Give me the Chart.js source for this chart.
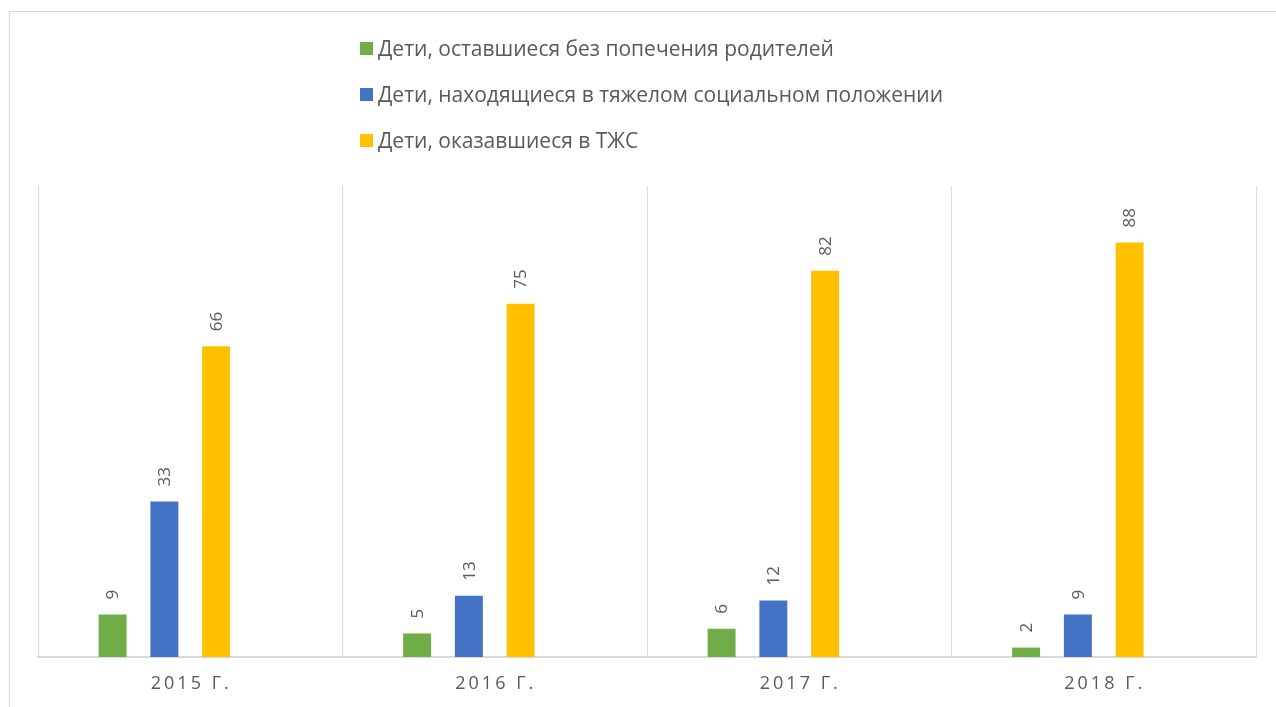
<!DOCTYPE html>
<html>
<head>
<meta charset="utf-8">
<script src="https://cdn.jsdelivr.net/npm/chart.js@4/dist/chart.umd.min.js"></script>
<style>
  html, body { margin: 0; padding: 0; background: #fff; }
  #wrap { position: relative; width: 1276px; height: 707px; overflow: hidden; }
  #frame { position: absolute; left: 9px; top: 11px; width: 1300px; height: 750px;
    border-left: 1px solid #d9d9d9; border-top: 1px solid #d9d9d9; box-sizing: border-box; }
  #legend { position: absolute; left: 360px; top: 25px; font-family: 'Open Sans', sans-serif;
    font-size: 21px; color: #595959; }
  .item { display: flex; align-items: center; height: 46px; }
  .box { width: 13px; height: 13px; margin-right: 5px; }
  canvas { position: absolute; left: 0; top: 0; }
</style>
</head>
<body>
<div id="wrap">
  <div id="frame"></div>
  <canvas id="chart" width="1276" height="707"></canvas>
  <div id="legend"></div>
</div>
<script>
'use strict';

let years = ['2015 Г.', '2016 Г.', '2017 Г.', '2018 Г.'];
let seriesNames = [
  'Дети, оставшиеся без попечения родителей',
  'Дети, находящиеся в тяжелом социальном положении',
  'Дети, оказавшиеся в ТЖС'
];
let withoutParents = [9, 5, 6, 2];
let hardSocial = [33, 13, 12, 9];
let difficultSituation = [66, 75, 82, 88];
let colors = ['#70ad47', '#4472c4', '#ffc000'];

let legendDiv = document.getElementById('legend');
for (let i = 0; i < seriesNames.length; i++) {
  let row = document.createElement('div');
  row.className = 'item';
  let box = document.createElement('span');
  box.className = 'box';
  box.style.background = colors[i];
  let txt = document.createElement('span');
  txt.textContent = seriesNames[i];
  row.appendChild(box);
  row.appendChild(txt);
  legendDiv.appendChild(row);
}

// vertical value labels above the bars
let barLabels = {
  id: 'barLabels',
  afterDatasetsDraw(chart) {
    let ctx = chart.ctx;
    ctx.save();
    ctx.font = '17px "Open Sans", sans-serif';
    ctx.fillStyle = '#595959';
    ctx.textAlign = 'left';
    ctx.textBaseline = 'middle';
    chart.data.datasets.forEach((ds, di) => {
      if (!ds.showLabels) return;
      let meta = chart.getDatasetMeta(di);
      meta.data.forEach((bar, i) => {
        ctx.save();
        ctx.translate(bar.x + 1, bar.y - 15);
        ctx.rotate(-Math.PI / 2);
        ctx.fillText(String(ds.data[i]), 0, 0);
        ctx.restore();
      });
    });
    ctx.restore();
  }
};

// category labels with letter spacing
let yearLabels = {
  id: 'yearLabels',
  afterDraw(chart) {
    let ctx = chart.ctx;
    let xs = chart.scales.x;
    ctx.save();
    ctx.font = '18px "Open Sans", sans-serif';
    ctx.fillStyle = '#595959';
    ctx.letterSpacing = '3px';
    ctx.textAlign = 'center';
    ctx.textBaseline = 'middle';
    for (let i = 0; i < years.length; i++) {
      ctx.fillText(years[i], xs.getPixelForTick(i) + 1, 684);
    }
    ctx.restore();
  }
};

let ctx = document.getElementById('chart').getContext('2d');
// eslint-disable-next-line no-unused-vars
let chart = new Chart(ctx, {
  type: 'bar',
  data: {
    labels: years,
    datasets: [{
      label: seriesNames[0],
      data: withoutParents,
      backgroundColor: colors[0],
      showLabels: true
    }, {
      label: seriesNames[1],
      data: hardSocial,
      backgroundColor: colors[1],
      showLabels: true
    }, {
      label: seriesNames[2],
      data: difficultSituation,
      backgroundColor: colors[2],
      showLabels: true
    }, {
      label: '',
      data: [null, null, null, null],
      backgroundColor: 'rgba(0,0,0,0)'
    }]
  },
  options: {
    responsive: false,
    animation: false,
    categoryPercentage: 0.68,
    barPercentage: 0.54,
    layout: { padding: { left: 38, right: 20, top: 186, bottom: 50 } },
    plugins: {
      legend: { display: false },
      tooltip: { enabled: false }
    },
    scales: {
      x: {
        ticks: { display: false },
        grid: { offset: true, color: '#d9d9d9', lineWidth: 1, drawTicks: false, tickLength: 0 },
        border: { color: '#d9d9d9', width: 2 }
      },
      y: {
        display: false,
        min: 0,
        max: 100
      }
    }
  },
  plugins: [barLabels, yearLabels]
});
</script>
</body>
</html>
